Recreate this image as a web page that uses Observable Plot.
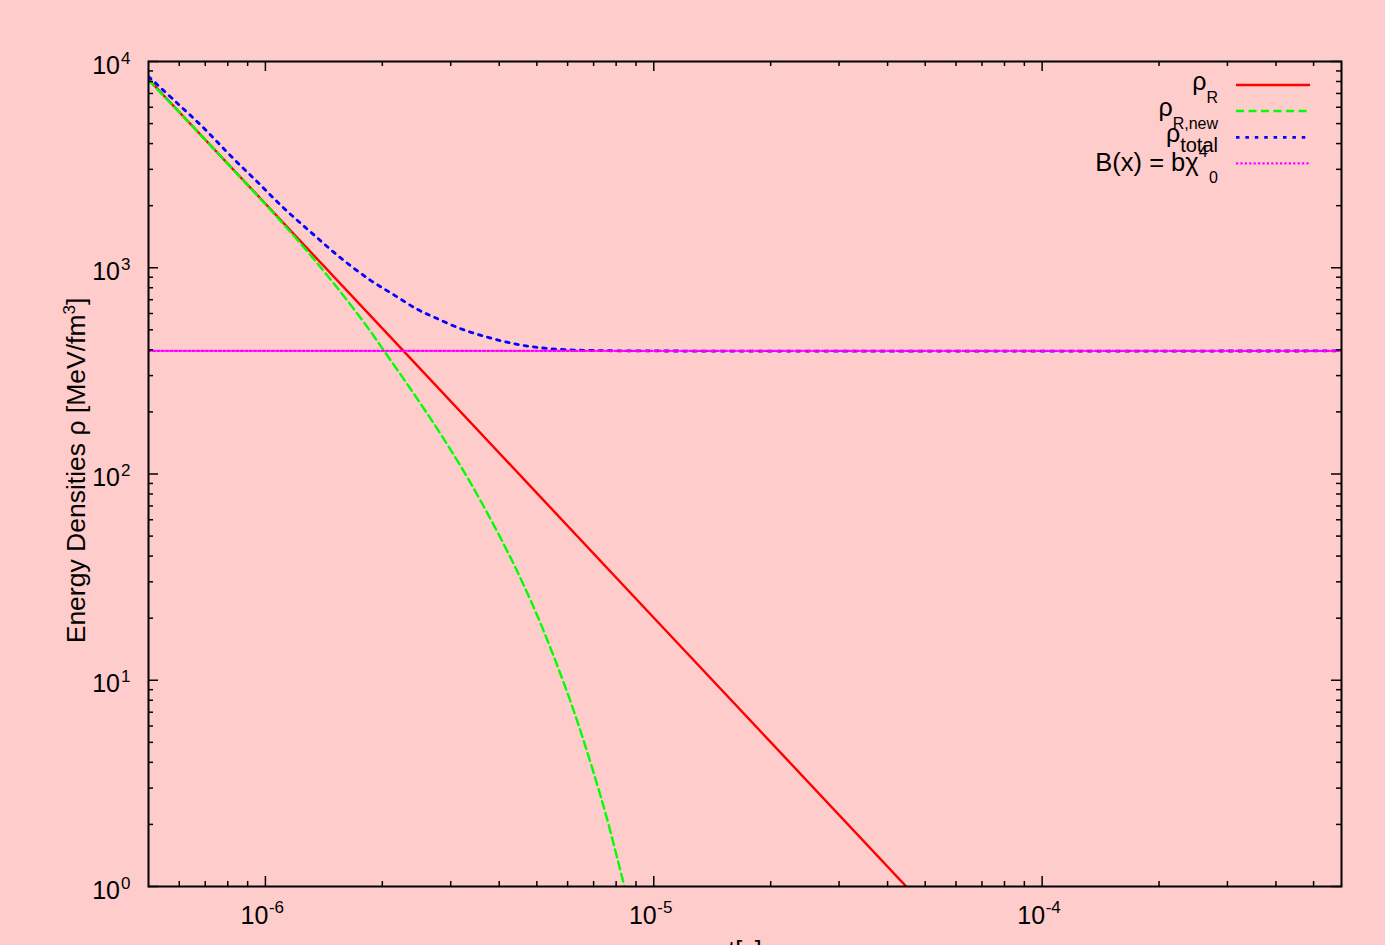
<!DOCTYPE html>
<html><head><meta charset="utf-8">
<script src="https://cdn.jsdelivr.net/npm/d3@7"></script>
<script src="https://cdn.jsdelivr.net/npm/@observablehq/plot@0.6"></script>
<style>html,body{margin:0;padding:0;background:#ffcccc;overflow:hidden}</style>
</head><body><div id="chart"></div>
<script>
// ---- data (t in seconds, rho in MeV/fm^3) ----
const tR    = [5e-7, 1e-6, 2e-6, 5e-6, 1e-5, 2e-5, 4.6e-5];
const rhoR  = [8200, 2043, 508, 80.8, 20.1, 5.01, 0.943];

const tNew   = [5.0e-7, 6.941e-7, 8.292e-7, 1.0107e-6, 1.2314e-6, 1.5003e-6, 1.8288e-6, 2.0178e-6, 2.3918e-6, 2.8518e-6, 3.4145e-6, 4.1101e-6, 4.6191e-6, 5.2104e-6, 6.2136e-6, 7.4345e-6, 8.3715e-6, 8.5e-6];
const rhoNew = [8135, 4242, 2968, 1988, 1311, 838.8, 516.8, 397.0, 250.4, 152.2, 87.07, 45.62, 29.06, 17.26, 7.166, 2.426, 1.027, 0.92];

const tTot   = [5.0e-7, 5.93e-7, 6.946e-7, 8.135e-7, 9.526e-7, 1.116e-6, 1.312e-6, 1.546e-6, 1.847e-6, 2.142e-6, 2.459e-6, 2.72e-6, 3.186e-6, 3.731e-6, 4.368e-6, 5.118e-6, 5.996e-6, 7.02e-6, 1e-5, 5.9e-4];
const rhoTot = [8460, 6279, 4749, 3489, 2610, 1944, 1482, 1134, 880, 739, 629.5, 575.7, 505.8, 460.6, 427.9, 409.2, 400.1, 397, 395, 395];

const tB   = [5e-7, 5.9e-4];
const rhoB = [395, 395];

const xMajor = [1e-6, 1e-5, 1e-4];
const xMinor = [6e-7, 7e-7, 8e-7, 9e-7, 2e-6, 3e-6, 4e-6, 5e-6, 6e-6, 7e-6, 8e-6, 9e-6, 2e-5, 3e-5, 4e-5, 5e-5, 6e-5, 7e-5, 8e-5, 9e-5, 2e-4, 3e-4, 4e-4, 5e-4];
const yMajor = [1, 10, 100, 1000, 10000];
const yMinor = [2,3,4,5,6,7,8,9, 20,30,40,50,60,70,80,90, 200,300,400,500,600,700,800,900, 2000,3000,4000,5000,6000,7000,8000,9000];
const xExp = ["-6", "-5", "-4"];
const yExp = ["0", "1", "2", "3", "4"];

const legendLabels = ["ρ", "ρ", "ρ", "B(x) = bχ"];
const legendColors = ["#ff0000", "#00ff00", "#0000ff", "#ff00ff"];

// ---- layout ----
const W = 1385, H = 945, mL = 148, mR = 44, mT = 61, mB = 59;
const pw = W - mL - mR, ph = H - mT - mB;
const F = "'Liberation Sans', Arial, Helvetica, sans-serif";
const zip = (ts, vs) => ts.map((t, i) => ({t, v: vs[i]}));
const widths = [2.4, 2.4, 2.8, 2.3];
const dashes = [null, "8,4.5", "3.5,5.9", "2.2,2.2"];

const svg = Plot.plot({
  width: W, height: H,
  marginLeft: mL, marginRight: mR, marginTop: mT, marginBottom: mB,
  x: {type: "log", domain: [5e-7, 5.9e-4], axis: null},
  y: {type: "log", domain: [1, 1e4], axis: null},
  style: {background: "#ffcccc", fontFamily: F, color: "black", overflow: "visible"},
  marks: [
    Plot.line(zip(tR, rhoR), {x: "t", y: "v", stroke: legendColors[0], strokeWidth: widths[0], clip: true}),
    Plot.line(zip(tNew, rhoNew), {x: "t", y: "v", stroke: legendColors[1], strokeWidth: widths[1], strokeDasharray: dashes[1], curve: "catmull-rom", clip: true}),
    Plot.line(zip(tTot, rhoTot), {x: "t", y: "v", stroke: legendColors[2], strokeWidth: widths[2], strokeDasharray: dashes[2], curve: "catmull-rom", clip: true}),
    Plot.line(zip(tB, rhoB), {x: "t", y: "v", stroke: legendColors[3], strokeWidth: widths[3], strokeDasharray: dashes[3], clip: true}),
    // ticks (inward, all four sides)
    Plot.ruleX(xMajor, {x: d => d, stroke: "black", strokeWidth: 1.5, insetTop: ph - 10}),
    Plot.ruleX(xMajor, {x: d => d, stroke: "black", strokeWidth: 1.5, insetBottom: ph - 10}),
    Plot.ruleX(xMinor, {x: d => d, stroke: "black", strokeWidth: 1.5, insetTop: ph - 5}),
    Plot.ruleX(xMinor, {x: d => d, stroke: "black", strokeWidth: 1.5, insetBottom: ph - 5}),
    Plot.ruleY(yMajor, {y: d => d, stroke: "black", strokeWidth: 1.5, insetRight: pw - 10}),
    Plot.ruleY(yMajor, {y: d => d, stroke: "black", strokeWidth: 1.5, insetLeft: pw - 10}),
    Plot.ruleY(yMinor, {y: d => d, stroke: "black", strokeWidth: 1.5, insetRight: pw - 5}),
    Plot.ruleY(yMinor, {y: d => d, stroke: "black", strokeWidth: 1.5, insetLeft: pw - 5}),
    Plot.frame({stroke: "black", strokeWidth: 2}),
    // tick labels
    Plot.text(xMajor, {x: d => d, frameAnchor: "bottom", text: () => "10", textAnchor: "end", lineAnchor: "bottom", dx: 3, dy: 37, fontSize: 25}),
    Plot.text(xMajor, {x: d => d, frameAnchor: "bottom", text: (d, i) => xExp[i], textAnchor: "start", lineAnchor: "bottom", dx: 3.5, dy: 26, fontSize: 17}),
    Plot.text(yMajor, {y: d => d, frameAnchor: "left", text: () => "10", textAnchor: "end", lineAnchor: "bottom", dx: -28.5, dy: 12, fontSize: 25}),
    Plot.text(yMajor, {y: d => d, frameAnchor: "left", text: (d, i) => yExp[i], textAnchor: "start", lineAnchor: "bottom", dx: -27.5, dy: 2, fontSize: 17}),
    // x axis title (mostly below the visible area, as in the reference)
    Plot.text(["t[s]"], {frameAnchor: "bottom", text: d => d, lineAnchor: "bottom", dy: 72.5, fontSize: 25})
  ]
});

const s = d3.select(svg);
// y axis title with superscript
const yt = s.append("text")
  .attr("transform", `translate(84.5,470.5) rotate(-90)`)
  .attr("text-anchor", "middle").attr("font-family", F).attr("font-size", 26.5).attr("fill", "black");
yt.append("tspan").text("Energy Densities ρ [MeV/fm");
yt.append("tspan").attr("font-size", 17).attr("dy", -10).text("3");
yt.append("tspan").attr("dy", 10).text("]");

// legend
const rowsY = [85, 111, 137.3, 163.3];
const lg = s.append("g").attr("font-family", F).attr("fill", "black");
rowsY.forEach((y, i) => {
  lg.append("line").attr("x1", 1236).attr("x2", 1310).attr("y1", y).attr("y2", y)
    .attr("stroke", legendColors[i]).attr("stroke-width", widths[i])
    .attr("stroke-dasharray", dashes[i]);
});
const subs = [["R", 12.7, 16], ["R,new", 13.3, 16], ["total", 10, 20]];
subs.forEach(([sub, dy, fs], i) => {
  const base = [90, 116, 141.7][i];
  const t = lg.append("text").attr("x", 1218).attr("y", base).attr("text-anchor", "end").attr("font-size", 25);
  t.append("tspan").text(legendLabels[i]);
  t.append("tspan").attr("font-size", fs).attr("dy", dy).text(sub);
});
const tb = lg.append("text").attr("x", 1218).attr("y", 171).attr("text-anchor", "end").attr("font-size", 25.5);
tb.append("tspan").text(legendLabels[3]);
tb.append("tspan").attr("font-size", 16).attr("dy", -14.3).text("4");
tb.append("tspan").attr("font-size", 16).attr("dy", 26.6).attr("dx", 1.5).text("0");

document.getElementById("chart").appendChild(svg);
</script>
</body></html>
